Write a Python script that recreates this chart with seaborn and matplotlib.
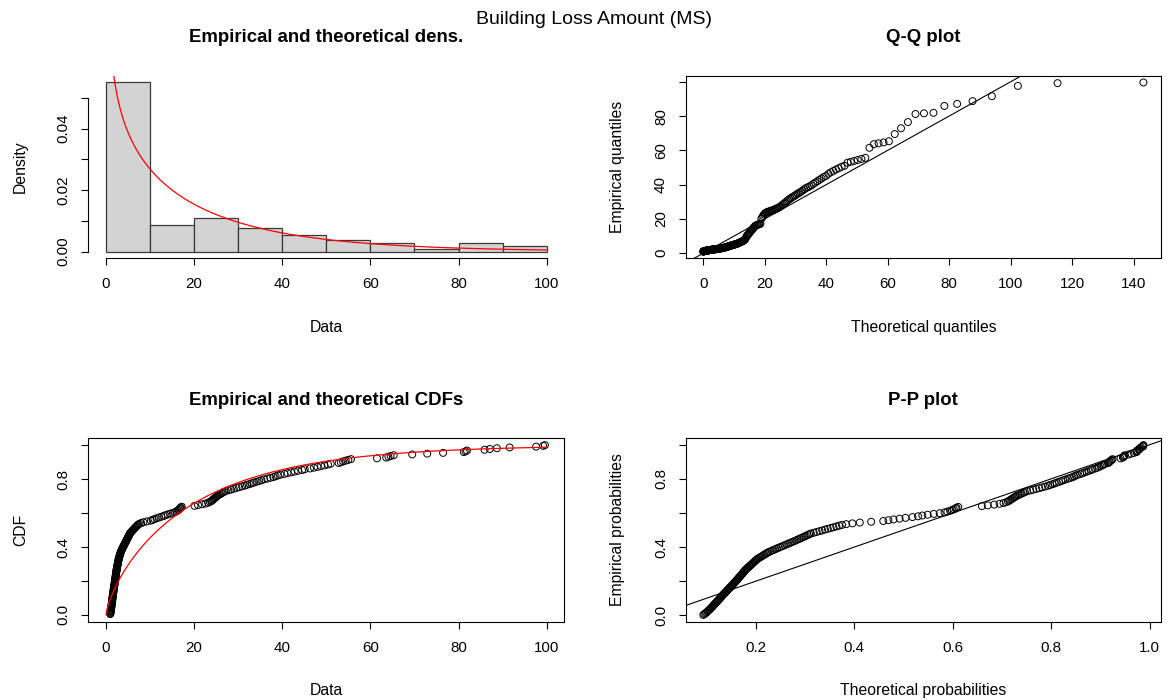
import math

import numpy as np
import matplotlib
matplotlib.use("Agg")
import matplotlib.pyplot as plt
import seaborn as sns

# Building loss amounts (sorted), grouped by 10-unit ranges
loss_0_10 = [
    0.98, 1.01, 1.04, 1.07, 1.10, 1.12, 1.15, 1.17, 1.20, 1.22, 1.24, 1.27, 1.29,
    1.31, 1.33, 1.36, 1.38, 1.41, 1.43, 1.45, 1.48, 1.50, 1.52, 1.55, 1.57, 1.59,
    1.62, 1.64, 1.67, 1.70, 1.72, 1.75, 1.77, 1.80, 1.83, 1.85, 1.88, 1.91, 1.93,
    1.96, 1.99, 2.01, 2.04, 2.06, 2.09, 2.12, 2.14, 2.17, 2.19, 2.22, 2.24, 2.27,
    2.30, 2.32, 2.35, 2.37, 2.40, 2.42, 2.45, 2.48, 2.52, 2.55, 2.59, 2.62, 2.66,
    2.69, 2.73, 2.76, 2.80, 2.83, 2.87, 2.90, 2.95, 3.00, 3.06, 3.11, 3.17, 3.22,
    3.28, 3.33, 3.39, 3.47, 3.55, 3.63, 3.71, 3.79, 3.88, 3.97, 4.06, 4.15, 4.24,
    4.33, 4.42, 4.51, 4.60, 4.69, 4.78, 4.87, 4.96, 5.05, 5.14, 5.23, 5.32, 5.41,
    5.50, 5.66, 5.82, 5.98, 6.14, 6.30, 6.46, 6.63, 6.80, 6.98, 7.15, 7.33, 7.60,
    8.00, 8.50, 9.30,
]
loss_10_20 = [10.2, 10.6, 11.0, 11.5, 12.0, 12.6, 13.1, 13.5, 14.0, 14.6,
              15.2, 15.7, 16.0, 16.3, 16.5, 16.7, 16.9, 17.0, 17.2]
loss_20_30 = [20.1, 20.9, 21.8, 22.6, 23.2, 23.6, 23.9, 24.1, 24.3, 24.5, 24.7, 24.9,
              25.1, 25.3, 25.6, 25.9, 26.2, 26.5, 26.8, 27.2, 27.8, 28.4, 29.0, 29.6]
loss_30_40 = [30.2, 30.9, 31.5, 32.0, 32.6, 33.1, 33.6, 34.2, 34.8, 35.3, 35.9,
              36.6, 37.3, 38.0, 38.5, 39.0, 39.6]
loss_40_50 = [40.5, 41.2, 42.0, 42.8, 43.6, 44.5, 45.1, 46.3, 47.2, 48.0, 48.8, 49.6]
loss_50_60 = [50.4, 51.0, 52.8, 53.3, 53.8, 54.4, 55.0, 55.6]
loss_60_70 = [61.5, 63.6, 64.1, 64.6, 65.3, 69.5]
loss_70_80 = [72.9, 76.5]
loss_80_90 = [81.2, 81.6, 81.9, 85.9, 87.1, 88.7]
loss_90_100 = [91.6, 97.6, 99.2, 99.6]

# Fitted gamma distribution
GAMMA_SHAPE = 0.74
GAMMA_RATE = 0.0376

hist_breaks = list(range(0, 101, 10))
dens_ticks = [0.0, 0.01, 0.02, 0.03, 0.04, 0.05]
dens_labels = ["0.00", "", "0.02", "", "0.04", ""]
prob_ticks = [0.0, 0.2, 0.4, 0.6, 0.8, 1.0]
prob_labels = ["0.0", "", "0.4", "", "0.8", ""]
data_ticks = [0, 20, 40, 60, 80, 100]
qq_x_ticks = [0, 20, 40, 60, 80, 100, 120, 140]
qq_y_ticks = [0, 20, 40, 60, 80, 100]
qq_y_labels = ["0", "20", "40", "60", "80", ""]
pp_x_ticks = [0.2, 0.4, 0.6, 0.8, 1.0]


def gamma_pdf(x, a, rate):
    z = np.asarray(x, float) * rate
    return rate * np.exp((a - 1) * np.log(z) - z - math.lgamma(a))


def gamma_cdf(x, a, rate):
    z = np.asarray(x, float) * rate
    term = np.full_like(z, math.exp(-math.lgamma(a + 1)))
    total = term.copy()
    for n in range(1, 400):
        term = term * z / (a + n)
        total = total + term
    with np.errstate(divide="ignore"):
        logz = np.where(z > 0, np.log(np.where(z > 0, z, 1.0)), -np.inf)
    return np.clip(np.exp(a * logz - z) * total, 0.0, 1.0)


def gamma_ppf(p, a, rate):
    xs = np.geomspace(1e-6, 400, 20000)
    return np.interp(p, gamma_cdf(xs, a, rate), xs)


loss = np.sort(np.array(loss_0_10 + loss_10_20 + loss_20_30 + loss_30_40 + loss_40_50
                        + loss_50_60 + loss_60_70 + loss_70_80 + loss_80_90 + loss_90_100))
n = loss.size
pp = (np.arange(1, n + 1) - 0.5) / n
ecdf = np.arange(1, n + 1) / n
theo_q = gamma_ppf(pp, GAMMA_SHAPE, GAMMA_RATE)
theo_p = gamma_cdf(loss, GAMMA_SHAPE, GAMMA_RATE)

# ---------------------------------------------------------------- styling
sns.set_theme(style="white")
plt.rcParams["font.family"] = ["Liberation Sans", "DejaVu Sans"]
plt.rcParams.update({
    "axes.edgecolor": "black",
    "axes.linewidth": 0.8,
    "xtick.color": "black",
    "ytick.color": "black",
    "xtick.bottom": True,
    "ytick.left": True,
    "xtick.direction": "out",
    "ytick.direction": "out",
    "xtick.major.size": 5.2,
    "ytick.major.size": 5.2,
    "xtick.major.width": 0.8,
    "ytick.major.width": 0.8,
    "xtick.major.pad": 8.5,
    "ytick.major.pad": 7.5,
    "xtick.labelsize": 10.9,
    "ytick.labelsize": 10.9,
    "axes.labelsize": 11.3,
    "text.color": "black",
    "axes.labelcolor": "black",
})

W, H = 1167, 700
fig = plt.figure(figsize=(W / 100, H / 100), dpi=100)


def px_axes(left, top, right, bottom):
    return fig.add_axes([left / W, 1 - bottom / H, (right - left) / W, (bottom - top) / H])


ax_h = px_axes(88.3, 75.7, 564.3, 258.3)
ax_q = px_axes(685.7, 75.7, 1161.0, 258.3)
ax_c = px_axes(88.3, 438.3, 564.3, 621.7)
ax_p = px_axes(685.7, 438.3, 1161.0, 621.7)


def padded(lo, hi):
    span = hi - lo
    return lo - 0.04 * span, hi + 0.04 * span


def finish(ax, title, xlabel, ylabel, yticks, ylabels):
    w = ax.get_position().width * W
    h = ax.get_position().height * H
    ax.set_yticks(yticks)
    ax.set_yticklabels(ylabels, rotation=90, va="center")
    ax.set_xlabel(xlabel, va="center")
    ax.set_ylabel(ylabel, va="center", rotation=90)
    ax.xaxis.set_label_coords(0.5, -69 / h)
    ax.yaxis.set_label_coords(-68 / w, 0.5)
    ax.text(0.5, 1 + 37.7 / h, title, transform=ax.transAxes, ha="center",
            va="center", fontsize=13.4, fontweight="bold")


def open_circles(ax, x, y):
    sns.scatterplot(x=x, y=y, ax=ax, marker="o", s=25, linewidth=0.7)
    pts = ax.collections[-1]
    pts.set_facecolor("none")
    pts.set_edgecolor("black")


# ---------------------------------------------------------------- density
sns.histplot(x=loss, bins=hist_breaks, stat="density", ax=ax_h, color="#D3D3D3",
             edgecolor="#3a3a3a", linewidth=0.9, alpha=1.0)
grid_d = np.linspace(0.3, 100, 600)
sns.lineplot(x=grid_d, y=gamma_pdf(grid_d, GAMMA_SHAPE, GAMMA_RATE), ax=ax_h,
             color="red", linewidth=0.9, errorbar=None, sort=False)
top = np.histogram(loss, bins=hist_breaks, density=True)[0].max()
ax_h.set_xlim(-4, 104)
ax_h.set_ylim(-0.04 * top, 1.04 * top)
ax_h.set_xticks(data_ticks)
for side in ("top", "right"):
    ax_h.spines[side].set_visible(False)
ax_h.spines["bottom"].set_bounds(0, 100)
ax_h.spines["left"].set_bounds(0, 0.05)
finish(ax_h, "Empirical and theoretical dens.", "Data", "Density", dens_ticks, dens_labels)

# ---------------------------------------------------------------- Q-Q
open_circles(ax_q, theo_q, loss)
ax_q.axline((0, 0), slope=1, color="black", linewidth=0.8)
ax_q.set_xlim(*padded(theo_q.min(), theo_q.max()))
ax_q.set_ylim(*padded(loss.min(), loss.max()))
ax_q.set_xticks(qq_x_ticks)
finish(ax_q, "Q-Q plot", "Theoretical quantiles", "Empirical quantiles", qq_y_ticks, qq_y_labels)

# ---------------------------------------------------------------- CDF
grid_c = np.linspace(0.0, 100, 600)
sns.lineplot(x=grid_c, y=gamma_cdf(grid_c, GAMMA_SHAPE, GAMMA_RATE), ax=ax_c,
             color="red", linewidth=0.9, errorbar=None, sort=False)
open_circles(ax_c, loss, ecdf)
ax_c.set_xlim(*padded(0, 100))
ax_c.set_ylim(*padded(0, 1))
ax_c.set_xticks(data_ticks)
finish(ax_c, "Empirical and theoretical CDFs", "Data", "CDF", prob_ticks, prob_labels)

# ---------------------------------------------------------------- P-P
open_circles(ax_p, theo_p, pp)
ax_p.axline((0, 0), slope=1, color="black", linewidth=0.8)
ax_p.set_xlim(*padded(theo_p.min(), theo_p.max()))
ax_p.set_ylim(*padded(pp.min(), pp.max()))
ax_p.set_xticks(pp_x_ticks)
ax_p.set_xticklabels(["0.2", "0.4", "0.6", "0.8", "1.0"])
finish(ax_p, "P-P plot", "Theoretical probabilities", "Empirical probabilities",
       prob_ticks, prob_labels)

for ax in (ax_h, ax_q, ax_c, ax_p):
    ax.tick_params(axis="both", which="major", length=5.2, width=0.8)

fig.text(594 / W, 1 - 20 / H, "Building Loss Amount (MS)", ha="center", va="center",
         fontsize=14)

fig.savefig("out.png", dpi=100)
